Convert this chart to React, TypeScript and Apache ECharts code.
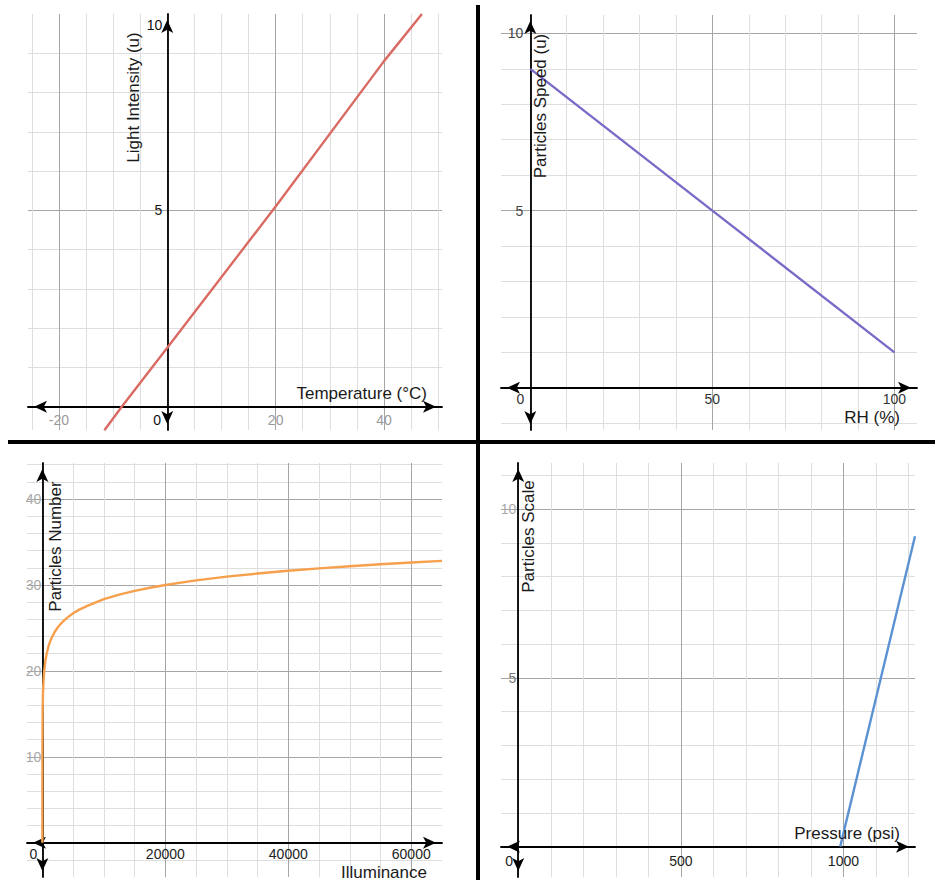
import React, { useEffect, useRef } from 'react';
import * as echarts from 'echarts';

const FONT = '"Liberation Sans", Arial, Helvetica, sans-serif';

// Quadrant 1: Temperature (°C) vs Light Intensity (u)
const temperatureC = [-11.6, -8.4, 0, 20, 40, 47];
const lightIntensity = [-0.6, 0, 1.5, 5.1, 8.8, 10];
const q1XLabels = [-20, 0, 20, 40];
const q1YLabels = [5, 10];

// Quadrant 2: RH (%) vs Particles Speed (u)
const rhPct = [0, 50, 100];
const particlesSpeed = [9, 5, 1];
const q2XLabels = [0, 50, 100];
const q2YLabels = [5, 10];

// Quadrant 3: Illuminance vs Particles Number
const illuminance = [0.07, 0.5, 5, 50, 100, 200, 300, 500, 700, 1000, 1250, 1500, 2000, 2500, 3000, 3500, 4000, 5000, 6000, 7500, 8500, 10000, 12500, 15000, 17500, 20000, 25000, 30000, 35000, 40000, 45000, 50000, 55000, 60000, 65000];
const particlesNumber = [0, 4.8, 10.3, 15.7, 17.4, 19.0, 20.0, 21.2, 22.0, 22.87, 23.4, 23.83, 24.52, 25.05, 25.48, 25.85, 26.17, 26.7, 27.13, 27.62, 27.92, 28.35, 28.88, 29.32, 29.68, 30.0, 30.53, 30.97, 31.33, 31.65, 31.93, 32.18, 32.41, 32.61, 32.8];
const q3XLabels = [0, 20000, 40000, 60000];
const q3YLabels = [10, 20, 30, 40];

// Quadrant 4: Pressure (psi) vs Particles Scale
const pressurePsi = [990, 1115, 1220];
const particlesScale = [0, 5, 9.2];
const q4XLabels = [0, 500, 1000];
const q4YLabels = [5, 10];

const pairs = (xs: number[], ys: number[]) => xs.map((x, i) => [x, ys[i]]);

const near = (a: number, b: number) => Math.abs(a - b) < 1e-6 * Math.max(1, Math.abs(b));

function makeFormatter(labels: number[], special: Record<string, string>) {
  return (v: number) => {
    const hit = labels.find((l) => near(v, l));
    if (hit === undefined) return '';
    const key = String(hit);
    if (special[key] !== undefined) return special[key];
    return key;
  };
}

type G = { left: number; top: number; width: number; height: number };

function axis(o: {
  grid: number;
  min: number;
  max: number;
  major: number;
  minor: number;
  labels: number[];
  special?: Record<string, string>;
  color: string;
  margin: number;
  rich?: any;
  crossMin: number;
  crossMax: number;
  crossSize: number;
  dir: 'x' | 'y';
}) {
  // offset from the grid's bottom (x axis) or left (y axis) edge to the other axis's zero
  const frac = (0 - o.crossMin) / (o.crossMax - o.crossMin);
  const offset = -frac * o.crossSize;
  return {
    type: 'value',
    gridIndex: o.grid,
    position: o.dir === 'x' ? 'bottom' : 'left',
    offset,
    min: o.min,
    max: o.max,
    minInterval: o.major,
    maxInterval: o.major,
    splitNumber: 3,
    axisLine: {
      show: true,
      onZero: false,
      lineStyle: { color: '#000', width: 1.8 },
      symbol: ['arrow', 'arrow'],
      symbolSize: [9, 13],
      symbolOffset: [6, -6],
    },
    axisTick: { show: false },
    axisLabel: {
      show: true,
      color: o.color,
      fontSize: 14,
      fontFamily: FONT,
      margin: o.margin,
      formatter: makeFormatter(o.labels, o.special || {}),
      rich: o.rich || {},
    },
    splitLine: {
      show: true,
      showMinLine: false,
      showMaxLine: false,
      lineStyle: { color: '#a6a6a6', width: 1 },
    },
    minorTick: { show: false, splitNumber: o.minor },
    minorSplitLine: { show: true, lineStyle: { color: '#dedede', width: 1 } },
  };
}

function title(text: string, x: number, y: number, vertical: boolean, align = 'center') {
  return {
    type: 'text',
    x,
    y,
    rotation: vertical ? Math.PI / 2 : 0,
    z: 50,
    style: {
      text,
      fill: '#1a1a1a',
      font: `17px ${FONT}`,
      align,
      verticalAlign: 'middle',
    },
  };
}

const grids: G[] = [
  { left: 28, top: 14, width: 414, height: 416 },
  { left: 501, top: 15, width: 416, height: 415 },
  { left: 27, top: 463, width: 415, height: 414 },
  { left: 501, top: 463, width: 414, height: 414 },
];

const xr = [
  [-25.7, 50.7],
  [-8.05, 106.2],
  [-2500, 65000],
  [-53, 1220],
];
const yr = [
  [-0.593, 10],
  [-1.19, 10.52],
  [-4.0, 44.2],
  [-0.9, 11.37],
];

export default function App() {
  const ref = useRef<HTMLDivElement>(null);

  useEffect(() => {
    if (!ref.current) return;
    const chart = echarts.init(ref.current, undefined, { renderer: 'svg' });

    const X = (i: number, rest: any) =>
      axis({ grid: i, dir: 'x', min: xr[i][0], max: xr[i][1], crossMin: yr[i][0], crossMax: yr[i][1], crossSize: grids[i].height, ...rest });
    const Y = (i: number, rest: any) =>
      axis({ grid: i, dir: 'y', min: yr[i][0], max: yr[i][1], crossMin: xr[i][0], crossMax: xr[i][1], crossSize: grids[i].width, ...rest });

    const option = {
      animation: false,
      backgroundColor: '#ffffff',
      grid: grids,
      xAxis: [
        X(0, { major: 20, minor: 4, labels: q1XLabels, special: { '0': '{z|0}' }, color: '#9a9a9a', margin: 6, rich: { z: { color: '#111', padding: [0, 20, 0, 0] } } }),
        X(1, { major: 50, minor: 5, labels: q2XLabels, special: { '0': '{z|0}' }, color: '#333', margin: 4, rich: { z: { color: '#333', padding: [0, 20, 0, 0] } } }),
        X(2, { major: 20000, minor: 4, labels: q3XLabels, special: { '0': '{z|0}' }, color: '#222', margin: 4, rich: { z: { color: '#222', padding: [0, 18, 0, 0] } } }),
        X(3, { major: 500, minor: 5, labels: q4XLabels, special: { '0': '{z|0}' }, color: '#222', margin: 7, rich: { z: { color: '#222', padding: [0, 18, 0, 0] } } }),
      ],
      yAxis: [
        Y(0, { major: 5, minor: 5, labels: q1YLabels, special: { '10': '{t|10}' }, color: '#111', margin: 5, rich: { t: { color: '#111', padding: [22, 0, 0, 0] } } }),
        Y(1, { major: 5, minor: 5, labels: q2YLabels, color: '#444', margin: 7 }),
        Y(2, { major: 10, minor: 5, labels: q3YLabels, color: '#a8a8a8', margin: 1 }),
        Y(3, { major: 5, minor: 5, labels: q4YLabels, special: { '5': '{d|5}' }, color: '#aaaaaa', margin: 2, rich: { d: { color: '#777' } } }),
      ],
      series: [
        {
          type: 'line', xAxisIndex: 0, yAxisIndex: 0, data: pairs(temperatureC, lightIntensity),
          symbol: 'none', clip: true, z: 10, lineStyle: { color: '#da6a64', width: 2.4 },
        },
        {
          type: 'line', xAxisIndex: 1, yAxisIndex: 1, data: pairs(rhPct, particlesSpeed),
          symbol: 'none', clip: true, z: 10, lineStyle: { color: '#7a6bc9', width: 2.4 },
        },
        {
          type: 'line', xAxisIndex: 2, yAxisIndex: 2, data: pairs(illuminance, particlesNumber),
          symbol: 'none', clip: true, z: 10, lineStyle: { color: '#f6a04d', width: 2.4 },
        },
        {
          type: 'line', xAxisIndex: 3, yAxisIndex: 3, data: pairs(pressurePsi, particlesScale),
          symbol: 'none', clip: true, z: 10, lineStyle: { color: '#5b92d4', width: 2.4 },
        },
      ],
      graphic: [
        title('Light Intensity (u)', 133.5, 97.5, true),
        title('Temperature (°C)', 427, 393, false, 'right'),
        title('Particles Speed (u)', 540.5, 106, true),
        title('RH (%)', 900, 417, false, 'right'),
        title('Particles Number', 55, 546.5, true),
        title('Illuminance', 427, 872, false, 'right'),
        title('Particles Scale', 528.3, 536.5, true),
        title('Pressure (psi)', 900, 833, false, 'right'),
        { type: 'rect', z: 60, shape: { x: 476, y: 5, width: 4, height: 875 }, style: { fill: '#000' } },
        { type: 'rect', z: 60, shape: { x: 8, y: 440, width: 927, height: 4 }, style: { fill: '#000' } },
      ],
    };

    chart.setOption(option as any);
    return () => chart.dispose();
  }, []);

  return (
    <div
      ref={ref}
      style={{ position: 'fixed', left: 0, top: 0, width: 935, height: 880, background: '#fff' }}
    />
  );
}
